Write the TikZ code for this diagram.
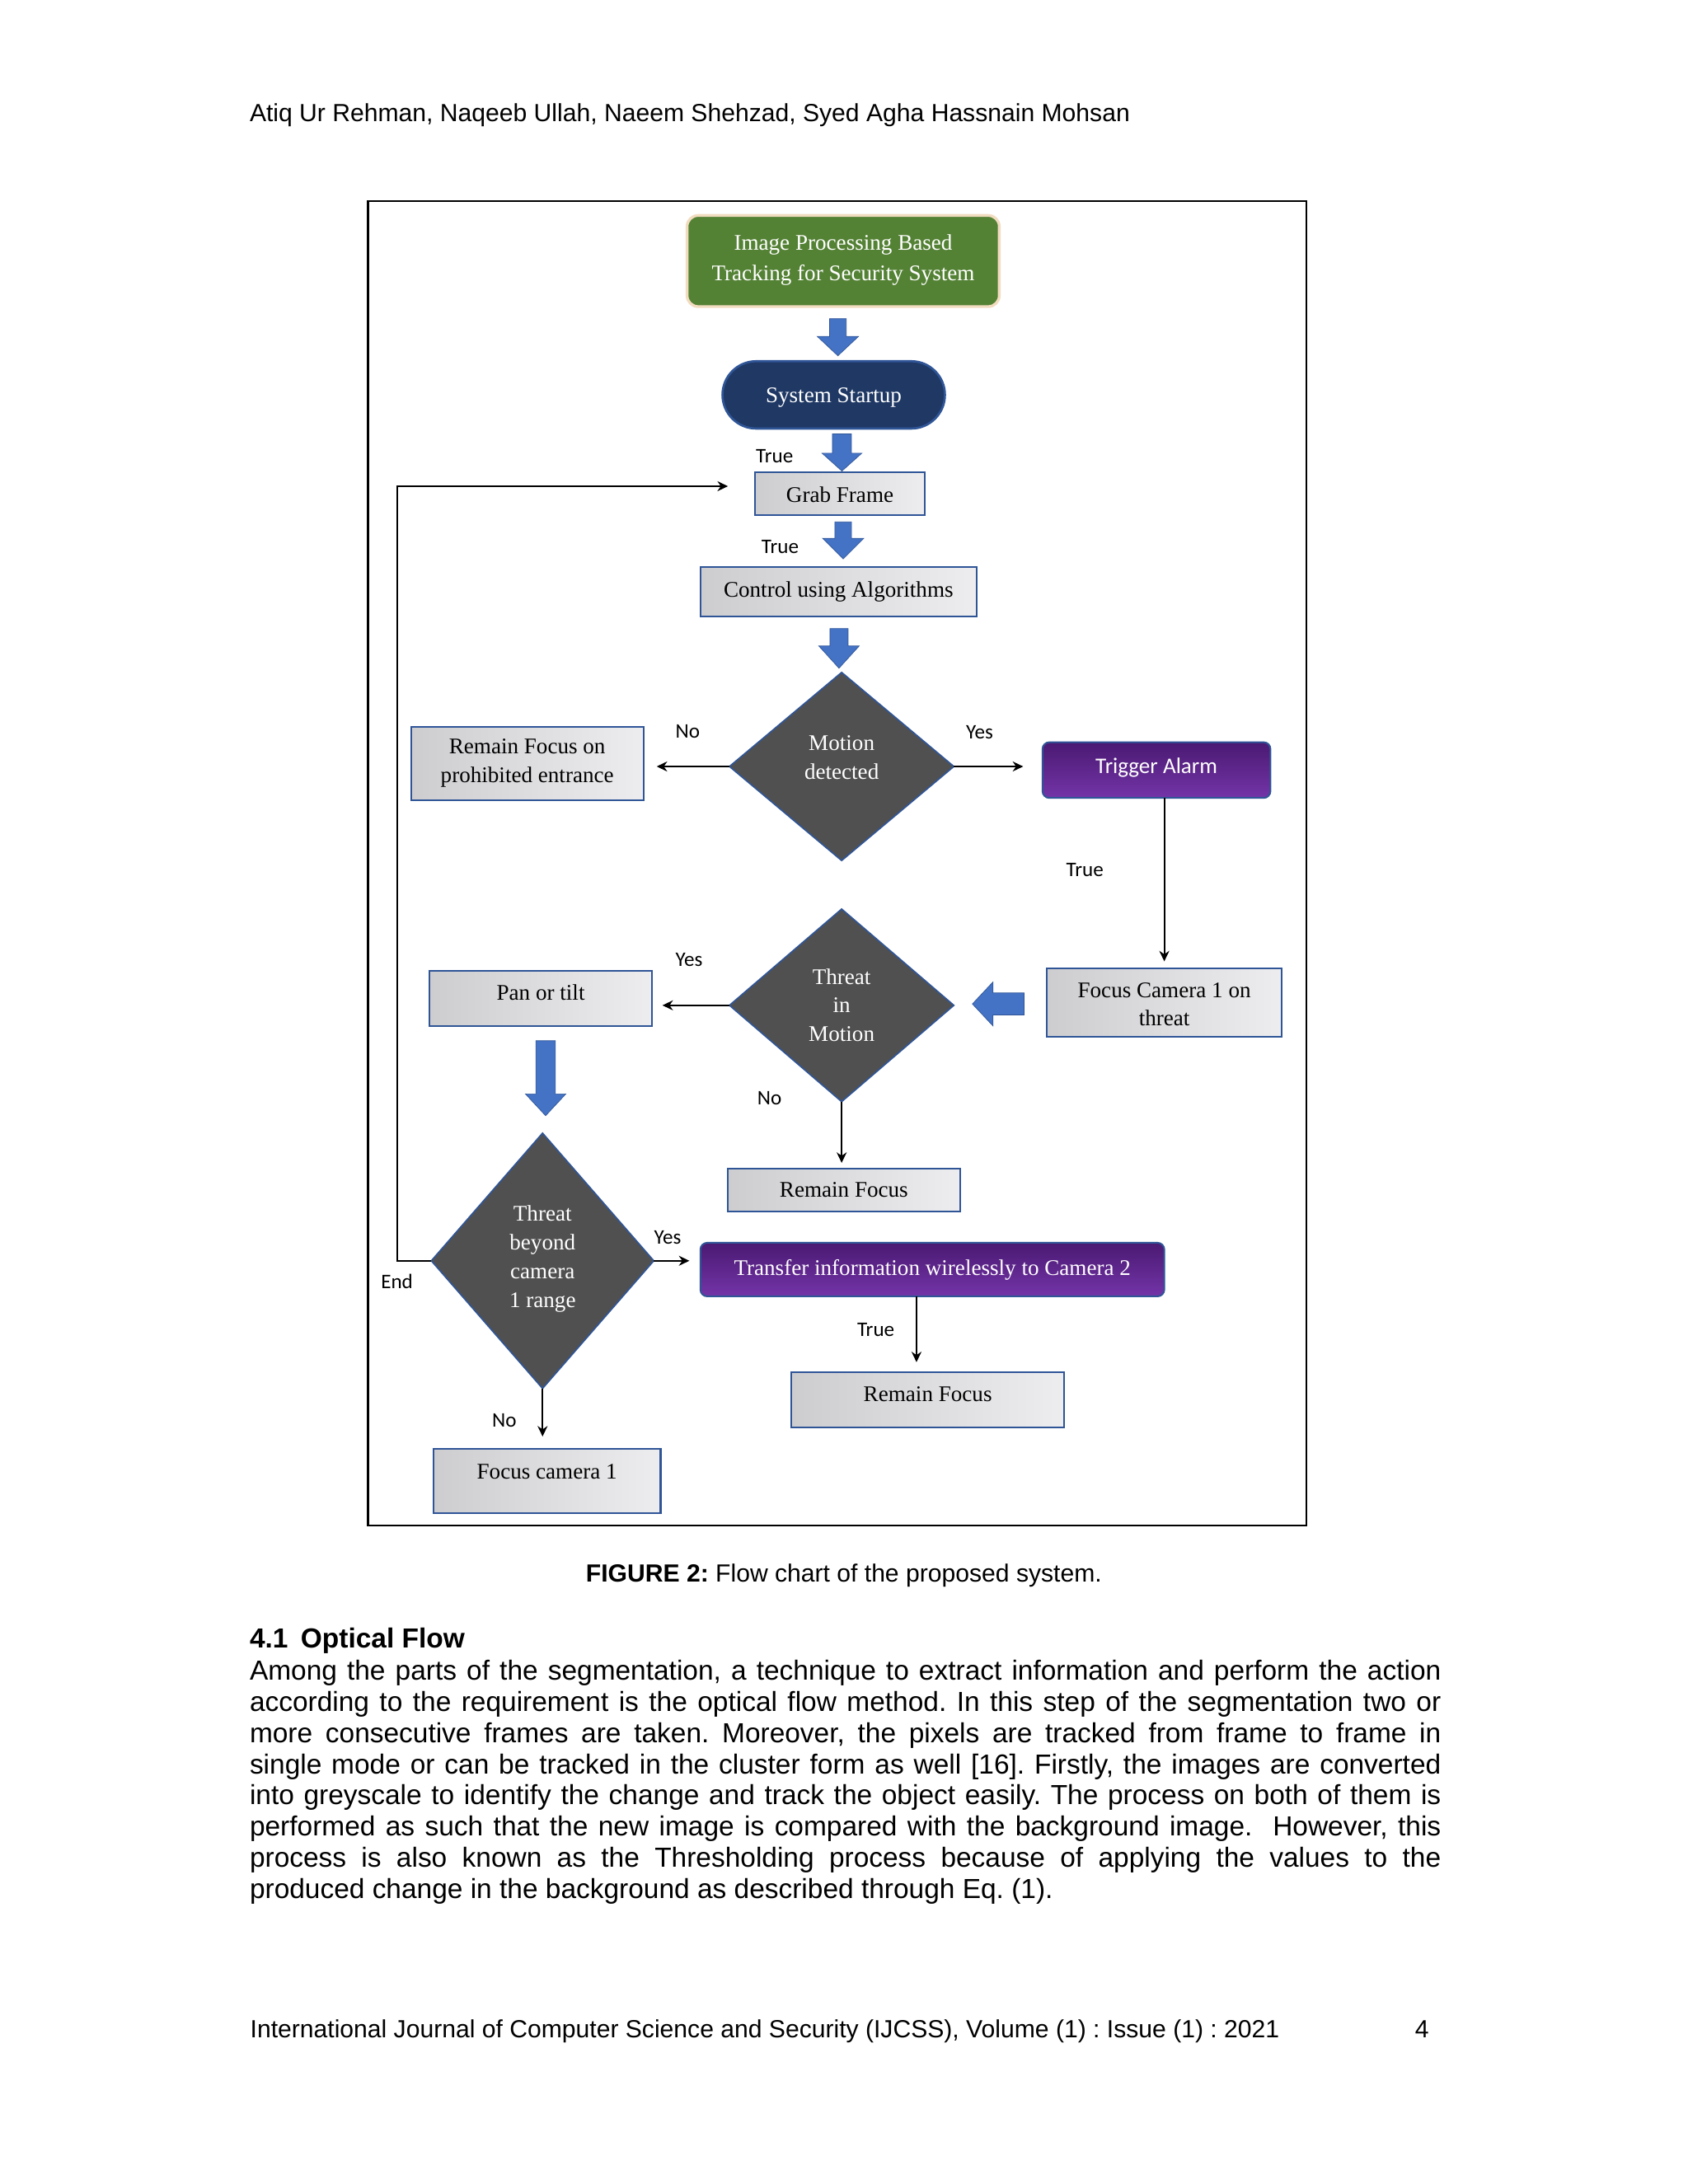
\documentclass[tikz,border=0pt]{standalone}
\usepackage{fontspec}
\setmainfont{Liberation Sans}
\newfontfamily\serifd{Liberation Serif}
\newfontfamily\calib{Carlito}
\usetikzlibrary{shapes.geometric,shapes.misc,arrows.meta,calc}
\frenchspacing
\definecolor{bordblue}{HTML}{2F5597}
\definecolor{arrblue}{HTML}{4472C4}
\definecolor{diafill}{HTML}{505050}
\definecolor{navy}{HTML}{1F3864}
\definecolor{grn}{HTML}{548235}
\definecolor{peach}{HTML}{F2DCC0}
\definecolor{purpT}{HTML}{4A1A72}
\definecolor{purpB}{HTML}{7434A8}
\definecolor{gL}{HTML}{CDCDD0}
\definecolor{gR}{HTML}{EDEDEF}
\newcommand\tx[2]{\raisebox{#1}[0pt][0pt]{\begin{tabular}[b]{@{}c@{}}#2\end{tabular}}}
\newcommand\du[1]{#1*0.505367pt}
\newcommand\blkdown[6]{\fill[blk] (#1-#5,#2) -- (#1+#5,#2) -- (#1+#5,#3) -- (#1+#6,#3) -- (#1,#4) -- (#1-#6,#3) -- (#1-#5,#3) -- cycle;}
\tikzset{
  sfont/.style={font=\serifd\fontsize{8.1}{10.4}\selectfont},
  box/.style={rectangle, draw=bordblue, line width=0.6pt, left color=gL, right color=gR, inner sep=0pt, outer sep=0pt, sfont, text=black},
  dbox/.style={diamond, draw=bordblue, line width=0.5pt, fill=diafill, inner sep=0pt, outer sep=0pt, aspect=1, sfont, text=white},
  purp/.style={rectangle, rounded corners=2.5pt, draw=bordblue, line width=0.6pt, top color=purpT, bottom color=purpB, inner sep=0pt, outer sep=0pt, text=white},
  conn/.style={draw=black, line width=0.6pt, -{Stealth[length=3.8pt,width=3.6pt]}},
  lab/.style={font=\calib\fontsize{7.5}{9}\selectfont, anchor=base west, inner sep=0pt},
  blk/.style={fill=arrblue, draw=bordblue, line width=0.2pt},
  ptext/.style={anchor=base west, inner sep=0pt},
}
\begin{document}
\begin{tikzpicture}[x=0.505367pt, y=-0.505367pt]
\useasboundingbox (0,0) rectangle (1211,1567.2);
\fill[white] (0,0) rectangle (1211,1567.2);

% page text
\node[ptext, font=\fontsize{9}{11}\selectfont] (hdr) at (178.8,87.5) {Atiq Ur Rehman, Naqeeb Ullah, Naeem Shehzad, Syed Agha Hassnain Mohsan};

% frame
\draw[line width=0.65pt] (264.1,144.5) rectangle (937.3,1094.8);

% nodes
\node[rectangle, rounded corners=4pt, fill=grn, draw=peach, line width=1pt, inner sep=0pt, text=white,
      font=\serifd\fontsize{8.1}{11.2}\selectfont, minimum width=\du{224}, minimum height=\du{65.4}] (title) at (605,187.3)
      {\tx{-7.2pt}{Image Processing Based\\Tracking for Security System}};
\node[rounded rectangle, fill=navy, draw=bordblue, line width=0.8pt, inner sep=0pt, text=white, sfont,
      minimum width=\du{159.6}, minimum height=\du{48.3}] (startup) at (598.2,283.35) {\tx{-2.75pt}{System Startup}};
\node[box, minimum width=\du{121.3}, minimum height=\du{30.6}] (grab) at (602.65,354.3) {\tx{-3.2pt}{Grab Frame}};
\node[box, minimum width=\du{198.1}, minimum height=\du{35.5}] (control) at (601.65,424.75) {\tx{-2pt}{Control using Algorithms}};
\node[dbox, minimum width=\du{161}, minimum height=\du{135}] (motion) at (603.9,550) {\tx{-4.5pt}{Motion\\detected}};
\node[box, minimum width=\du{166.6}, minimum height=\du{52.8}] (remain1) at (378.3,547.8) {\tx{-6.9pt}{Remain Focus on\\prohibited entrance}};
\node[purp, font=\calib\fontsize{8.1}{10}\selectfont, minimum width=\du{163.6}, minimum height=\du{40}] (alarm) at (829.8,552.6) {\tx{-1.1pt}{Trigger Alarm}};
\node[box, minimum width=\du{168.2}, minimum height=\du{49.2}] (focuscam) at (835.4,719.4) {\tx{-8.5pt}{Focus Camera 1 on\\threat}};
\node[dbox, minimum width=\du{161}, minimum height=\du{138.2}] (threat) at (603.9,721.4) {\tx{-13.1pt}{Threat\\in\\Motion}};
\node[box, minimum width=\du{160}, minimum height=\du{39.5}] (pan) at (388,716.4) {\tx{-0.7pt}{Pan or tilt}};
\node[box, minimum width=\du{166.7}, minimum height=\du{30.8}] (remain2) at (605.5,853.8) {\tx{-2.5pt}{Remain Focus}};
\node[dbox, minimum width=\du{159.6}, minimum height=\du{183.2}] (beyond) at (389.3,904.7) {\tx{-16.9pt}{Threat\\beyond\\camera\\1 range}};
\node[purp, sfont, minimum width=\du{332.9}, minimum height=\du{38.5}] (transfer) at (669,911) {\tx{-2pt}{Transfer information wirelessly to Camera 2}};
\node[box, minimum width=\du{195.6}, minimum height=\du{39.7}] (remain3) at (665.7,1004.25) {\tx{-0.7pt}{Remain Focus}};
\node[box, minimum width=\du{163}, minimum height=\du{45.9}] (focus1) at (392.5,1062.65) {\tx{0.6pt}{Focus camera 1}};

% block arrows
\blkdown{601.2}{228.7}{241.4}{255.3}{6}{14.8}
\blkdown{604.1}{311.4}{325.2}{338}{6.8}{14.3}
\blkdown{605}{374.5}{386.3}{401.1}{6}{14.8}
\blkdown{602}{451}{463.5}{479.5}{6.5}{14.5}
\blkdown{391.5}{746.8}{785}{800.6}{7}{14.5}
\fill[blk] (734.8,712.5) -- (712.5,712.5) -- (712.5,704.6) -- (697.7,720.4) -- (712.5,736.2) -- (712.5,728.3) -- (734.8,728.3) -- cycle;

% connectors
\draw[conn, shorten >=4.85pt] (motion.west) -- (motion.west -| remain1.east);
\draw[conn, shorten >=7pt] (motion.east) -- (motion.east -| alarm.west);
\draw[conn, shorten >=2.5pt] (focuscam.north |- alarm.south) -- (focuscam.north);
\draw[conn, shorten >=3.7pt] (threat.west) -- (threat.west -| pan.east);
\draw[conn, shorten >=2pt] (threat.south) -- (threat.south |- remain2.north);
\draw[conn, shorten >=4pt] (beyond.east) -- (beyond.east -| transfer.west);
\coordinate (tsrc) at ($(transfer.south)+(-11.4,0)$);
\draw[conn, shorten >=3.5pt] (tsrc) -- (tsrc |- remain3.north);
\draw[conn, shorten >=4.5pt] (beyond.south) -- (beyond.south |- focus1.north);
\coordinate (fbt) at ($(grab.west)+(-19.7,-5.4)$);
\coordinate (loopc) at (284.8,904.7);
\draw[conn] (beyond.west) -- (loopc) |- (fbt);

% labels
\node[lab] (l1) at (542,332) {True};
\node[lab] (l2) at (546,397) {True};
\node[lab] (l3) at (484.3,529.8) {No};
\node[lab] (l4) at (692.8,530.2) {Yes};
\node[lab] (l5) at (764.7,628.7) {True};
\node[lab] (l6) at (484.3,693.5) {Yes};
\node[lab] (l7) at (543,793) {No};
\node[lab] (l8) at (469,892.5) {Yes};
\node[lab] (l9) at (273,924.4) {End};
\node[lab] (l10) at (614.7,959) {True};
\node[lab] (l11) at (352.8,1024) {No};

% caption and body
\node[anchor=base, inner sep=0pt, font=\fontsize{9}{11}\selectfont] (cap) at (605.5,1135.1) {\textbf{FIGURE 2:} Flow chart of the proposed system.};
\node[ptext, font=\fontsize{10}{12}\selectfont\bfseries] (sec) at (178.8,1182.6) {4.1\hspace{4.6pt}Optical Flow};
\begin{scope}[every node/.style={ptext, font=\fontsize{10}{12}\selectfont}]
\node (b1) at (178.8,1205.7) {\makebox[432pt][s]{Among the parts of the segmentation, a technique to extract information and perform the action}};
\node (b2) at (178.8,1228.05) {\makebox[432pt][s]{according to the requirement is the optical flow method. In this step of the segmentation two or}};
\node (b3) at (178.8,1250.4) {\makebox[432pt][s]{more consecutive frames are taken. Moreover, the pixels are tracked from frame to frame in}};
\node (b4) at (178.8,1272.75) {\makebox[432pt][s]{single mode or can be tracked in the cluster form as well [16]. Firstly, the images are converted}};
\node (b5) at (178.8,1295.1) {\makebox[432pt][s]{into greyscale to identify the change and track the object easily. The process on both of them is}};
\node (b6) at (178.8,1317.45) {\makebox[432pt][s]{performed as such that the new image is compared with the background image.\ \ However, this}};
\node (b7) at (178.8,1339.8) {\makebox[432pt][s]{process is also known as the Thresholding process because of applying the values to the}};
\node (b8) at (178.8,1362.15) {produced change in the background as described through Eq. (1).};
\end{scope}
\node[ptext, font=\fontsize{9}{11}\selectfont] (ftr) at (179.2,1462.1) {International Journal of Computer Science and Security (IJCSS), Volume (1) : Issue (1) : 2021};
\node[ptext, font=\fontsize{9}{11}\selectfont] (pg) at (1015,1462.1) {4};
\end{tikzpicture}
\end{document}
